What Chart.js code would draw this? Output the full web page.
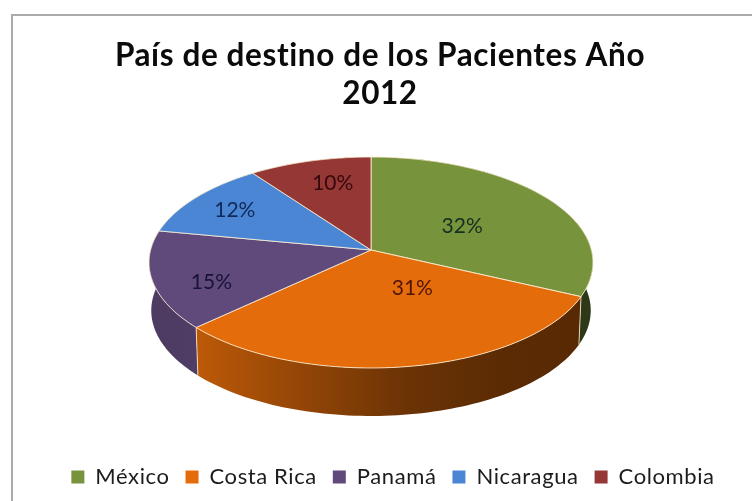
<!DOCTYPE html>
<html>
<head>
<meta charset="utf-8">
<title>País de destino</title>
<script src="https://cdn.jsdelivr.net/npm/chart.js@4"></script>
<style>
	html, body { margin: 0; padding: 0; background: #fff; }
	#wrap { width: 752px; height: 501px; position: relative; }
</style>
</head>
<body>
<div id="wrap"><canvas id="destino_Chart"></canvas></div>
<script>
const paises = ['México', 'Costa Rica', 'Panamá', 'Nicaragua', 'Colombia'];
const porcentajes = [32, 31, 15, 12, 10];
const colores = ['#77933c', '#e46c0a', '#604a7b', '#4a86d4', '#953735'];
const coloresTexto = ['#15301f', '#4f1508', '#17123c', '#10295a', '#36090f'];
// desplazamiento de cada etiqueta respecto al centro de su sector
const ajusteEtiquetas = [[1, 3], [23, -16], [-52, 17], [-46, -13], [-6, -20]];

// perspectiva de la tapa: circulo unidad -> elipse con el vertice desplazado
const tapa = { cx: 371, cy: 250, d: 220.4, a: 104, c: -0.1185, fondo: 48, encoge: 0.99 };

function proyectar(u, v) {
	const w = 1 + tapa.c * v;
	return [tapa.cx + tapa.d * u / w, tapa.cy + tapa.a * v / w];
}

function puntosArco(arc) {
	const pts = [];
	const pasos = Math.max(8, Math.ceil((arc.endAngle - arc.startAngle) * 40));
	for (let i = 0; i <= pasos; i++) {
		const t = arc.startAngle + (arc.endAngle - arc.startAngle) * i / pasos;
		pts.push(proyectar(Math.cos(t), Math.sin(t)));
	}
	return pts;
}

function abajo(p) {
	return [tapa.cx + (p[0] - tapa.cx) * tapa.encoge, p[1] + tapa.fondo];
}

function oscurecer(hex, f) {
	const n = parseInt(hex.slice(1), 16);
	const r = Math.round((n >> 16 & 255) * f);
	const g = Math.round((n >> 8 & 255) * f);
	const b = Math.round((n & 255) * f);
	return 'rgb(' + r + ',' + g + ',' + b + ')';
}

// sombreado del lateral, de izquierda a derecha
function degradadoLateral(ctx, hex) {
	const g = ctx.createLinearGradient(149, 0, 593, 0);
	g.addColorStop(0, oscurecer(hex, 0.8));
	g.addColorStop(0.11, oscurecer(hex, 0.82));
	g.addColorStop(0.3, oscurecer(hex, 0.68));
	g.addColorStop(0.58, oscurecer(hex, 0.47));
	g.addColorStop(0.8, oscurecer(hex, 0.4));
	g.addColorStop(1, oscurecer(hex, 0.38));
	return g;
}

function trazar(ctx, pts) {
	pts.forEach(function(p) {
		ctx.lineTo(p[0], p[1]);
	});
}

const marcoPlugin = {
	id: 'marco',
	beforeLayout(chart) {
		chart.ctx.letterSpacing = '0.6px';
	},
	afterLayout(chart) {
		// leyenda y titulo no van centrados en el lienzo
		chart.legend.left += 17;
		chart.legend.right += 17;
		chart.titleBlock.left += 4;
		chart.titleBlock.right += 4;
	},
	beforeDraw(chart) {
		const ctx = chart.ctx;
		ctx.letterSpacing = '0.6px';
		ctx.save();
		ctx.strokeStyle = '#ababab';
		ctx.lineWidth = 2;
		ctx.beginPath();
		ctx.moveTo(12, 501);
		ctx.lineTo(12, 15);
		ctx.lineTo(752, 15);
		ctx.stroke();
		ctx.restore();
	}
};

const tartaPlugin = {
	id: 'tarta3d',
	beforeDatasetDraw(chart) {
		const ctx = chart.ctx;
		const arcos = chart.getDatasetMeta(0).data;
		const centro = proyectar(0, 0);
		const linea = 'rgba(255,243,215,0.8)';
		ctx.save();

		// laterales primero, de atras hacia delante
		const orden = arcos.map(function(a, i) { return i; }).sort(function(i, j) {
			return Math.sin((arcos[i].startAngle + arcos[i].endAngle) / 2) - Math.sin((arcos[j].startAngle + arcos[j].endAngle) / 2);
		});
		orden.forEach(function(i) {
			const pts = puntosArco(arcos[i]);
			ctx.beginPath();
			trazar(ctx, pts.concat(pts.map(abajo).reverse()));
			ctx.closePath();
			ctx.fillStyle = degradadoLateral(ctx, colores[i]);
			ctx.fill();
		});

		// aristas verticales de los cortes que quedan delante
		ctx.strokeStyle = linea;
		ctx.lineWidth = 1;
		arcos.forEach(function(arc) {
			if (Math.sin(arc.endAngle) > 0.3) {
				const p = proyectar(Math.cos(arc.endAngle), Math.sin(arc.endAngle));
				const q = abajo(p);
				ctx.beginPath();
				ctx.moveTo(p[0], p[1]);
				ctx.lineTo(q[0], q[1]);
				ctx.stroke();
			}
		});

		// tapa superior
		arcos.forEach(function(arc, i) {
			ctx.beginPath();
			ctx.moveTo(centro[0], centro[1]);
			trazar(ctx, puntosArco(arc));
			ctx.closePath();
			ctx.fillStyle = colores[i];
			ctx.fill();
			ctx.stroke();
		});

		// etiquetas de porcentaje
		ctx.letterSpacing = '0px';
		ctx.font = '21px Lato';
		ctx.textAlign = 'center';
		ctx.textBaseline = 'middle';
		arcos.forEach(function(arc, i) {
			const m = (arc.startAngle + arc.endAngle) / 2;
			const p = proyectar(Math.cos(m) * 0.5, Math.sin(m) * 0.5);
			ctx.fillStyle = coloresTexto[i];
			ctx.fillText(porcentajes[i] + '%', p[0] + ajusteEtiquetas[i][0], p[1] + ajusteEtiquetas[i][1]);
		});

		ctx.restore();
		return false;
	}
};

const canvas = document.getElementById('destino_Chart');
const context = canvas.getContext('2d');

new Chart(context, {
	type: 'pie',
	data: {
		labels: paises,
		datasets: [{
			data: porcentajes,
			backgroundColor: colores,
			borderWidth: 0
		}]
	},
	options: {
		responsive: true,
		maintainAspectRatio: false,
		animation: false,
		layout: { padding: { top: 37, bottom: 3 } },
		plugins: {
			tooltip: { enabled: false },
			title: {
				display: true,
				text: ['País de destino de los Pacientes Año', '2012'],
				color: '#0b0b0b',
				font: { family: 'Lato', size: 31.5, weight: 'bold', lineHeight: 1.21 },
				padding: { top: 0, bottom: 10 }
			},
			legend: {
				position: 'bottom',
				labels: {
					boxWidth: 13,
					boxHeight: 13,
					padding: 16,
					color: '#1c1c1c',
					font: { family: 'Lato', size: 22 }
				}
			}
		}
	},
	plugins: [marcoPlugin, tartaPlugin]
});
</script>
</body>
</html>
